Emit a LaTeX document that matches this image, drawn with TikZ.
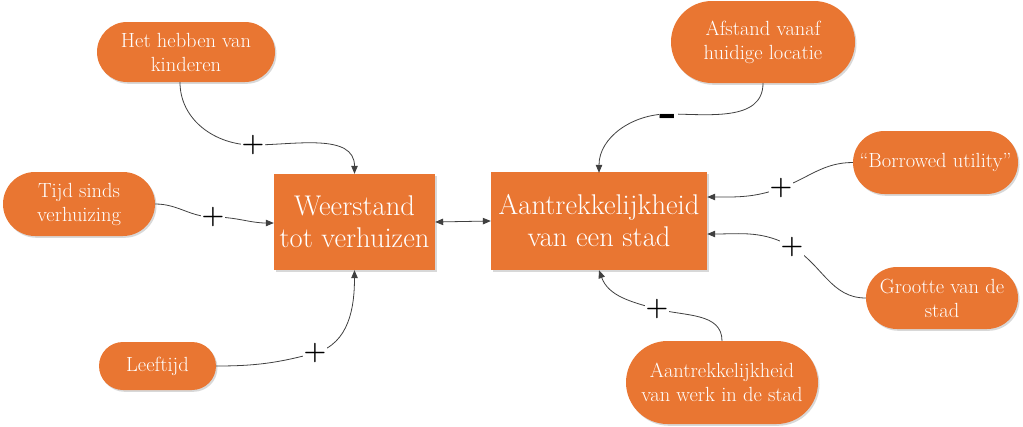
\documentclass[tikz,border=0pt]{standalone}
\usetikzlibrary{shapes.misc,arrows.meta,shadows}
\definecolor{org}{RGB}{233,118,50}
\definecolor{lnk}{RGB}{64,64,64}
\begin{document}
\begin{tikzpicture}[x=1pt,y=1pt,
  shadowed/.style={drop shadow={shadow xshift=1.5pt,shadow yshift=-1.8pt,fill=black!30,opacity=0.5}},
  factor/.style={rounded rectangle,fill=org,shadowed,text=white,align=center,inner sep=2pt,
    font=\fontsize{20.5}{24}\selectfont},
  mainbox/.style={rectangle,fill=org,shadowed,text=white,align=center,inner sep=2pt,
    font=\fontsize{28.5}{32}\selectfont},
  link/.style={draw=lnk,line width=0.8pt,-{Triangle[length=8pt,width=6.5pt]}},
  plusmark/.style={fill=white,inner sep=0.3pt,text=black,font=\fontsize{26}{26}\selectfont\bfseries},
  minusmark/.style={fill=white,inner sep=0.5pt,text=black,font=\fontsize{30}{30}\selectfont\bfseries}
]
\useasboundingbox (0,0) rectangle (1023,-426);

\node[mainbox,minimum width=161pt,minimum height=96pt] (W) at (354.5,-222) {Weerstand\\tot verhuizen};
\node[mainbox,minimum width=216pt,minimum height=98pt] (A) at (599,-221) {Aantrekkelijkheid\\van een stad};

\node[factor,minimum width=182pt,minimum height=60pt] (K) at (186,-52) {Het hebben van\\kinderen};
\node[factor,minimum width=156pt,minimum height=64pt] (T) at (79,-204) {Tijd sinds\\verhuizing};
\node[factor,minimum width=121pt,minimum height=48pt] (L) at (157.5,-366) {Leeftijd};
\node[factor,minimum width=188pt,minimum height=82pt] (F) at (763,-42) {Afstand vanaf\\huidige locatie};
\node[factor,minimum width=169pt,minimum height=63pt] (B) at (935.5,-162.5) {``Borrowed utility''};
\node[factor,minimum width=156pt,minimum height=62pt] (G) at (942,-298) {Grootte van de\\stad};
\node[factor,minimum width=196pt,minimum height=83pt] (P) at (722,-382.5) {Aantrekkelijkheid\\van werk in de stad};

\coordinate (k1) at ([xshift=-6pt]K.south);
\coordinate (w1) at ([xshift=0pt]W.north);
\coordinate (w2) at ([yshift=-1pt]W.west);
\coordinate (w3) at ([xshift=0pt]W.south);
\coordinate (a1) at ([yshift=-1pt]A.north);
\coordinate (a2) at ([yshift=24pt]A.east);
\coordinate (a3) at ([yshift=-13pt]A.east);
\coordinate (a4) at ([yshift=0pt]A.south);

\coordinate (mk) at (253,-145);
\coordinate (mt) at (213,-217);
\coordinate (ml) at (315,-353);
\coordinate (mf) at (668,-114);
\coordinate (mb) at (781,-188);
\coordinate (mg) at (792,-247);
\coordinate (mp) at (657,-309);

\draw[link] (k1) to[out=-90,in=180] (mk) to[out=0,in=90] (w1);
\draw[link] (T.east) to[out=0,in=180] (mt) to[out=0,in=180] (w2);
\draw[link] (L.east) to[out=0,in=195] (ml) to[out=15,in=-90] (w3);
\draw[link] (F.south) to[out=-90,in=0] (mf) to[out=180,in=90] (a1);
\draw[link] (B.west) to[out=180,in=20] (mb) to[out=200,in=0] (a2);
\draw[link] (G.west) to[out=180,in=-30] (mg) to[out=150,in=0] (a3);
\draw[link] (P.north) to[out=90,in=-15] (mp) to[out=165,in=-70] (a4);
\draw[draw=lnk,line width=0.8pt,{Triangle[length=8pt,width=6.5pt]}-{Triangle[length=8pt,width=6.5pt]}] (W.east) -- (A.west);

\node[plusmark] (pk) at (mk) {+};
\node[plusmark] (pt) at (mt) {+};
\node[plusmark] (pl) at (ml) {+};
\node[minusmark,yshift=-6pt] (pf) at (mf) {\scalebox{1.6}[1.5]{-}};
\node[plusmark] (pb) at (mb) {+};
\node[plusmark] (pg) at (mg) {+};
\node[plusmark] (pp) at (mp) {+};
\end{tikzpicture}
\end{document}
